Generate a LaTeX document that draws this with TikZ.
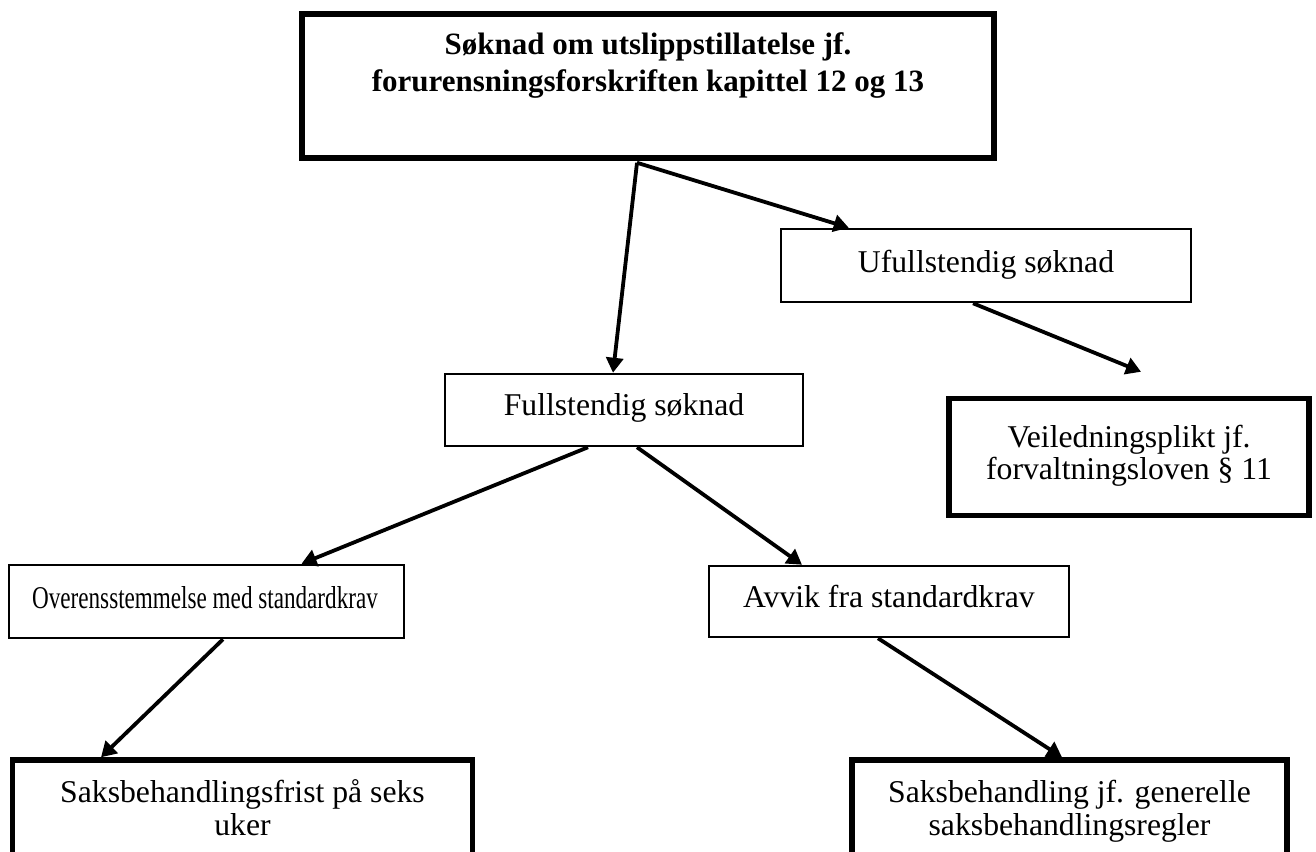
\documentclass[tikz,border=0pt]{standalone}
\usepackage{fontspec}
\setmainfont{Liberation Serif}
\usepackage{graphicx}
\usetikzlibrary{arrows.meta}
\begin{document}
\begin{tikzpicture}[x=1pt,y=-1pt,
  thinbox/.style={draw, line width=2.5pt, inner sep=0pt, rectangle},
  thickbox/.style={draw, line width=5.5pt, inner sep=0pt, rectangle},
  txt/.style={font=\fontsize{31.7}{34}\selectfont, align=center, inner sep=0pt},
  ttl/.style={font=\bfseries\fontsize{31}{37}\selectfont, align=center, inner sep=0pt},
  arr/.style={-{Triangle[length=15pt,width=17pt]}, line width=3.8pt}]
\useasboundingbox (0,0) rectangle (1316,851);
\clip (0,0) rectangle (1316,851);
\fill[white] (0,0) rectangle (1316,851);

% boxes
\node[thickbox, minimum width=692pt, minimum height=144pt] (A) at (648,86) {};
\node[thinbox, minimum width=410pt, minimum height=73pt] (B) at (986,265.5) {};
\node[thinbox, minimum width=358pt, minimum height=72pt] (C) at (624,410) {};
\node[thickbox, minimum width=360pt, minimum height=117pt] (D) at (1129,457) {};
\node[thinbox, minimum width=395pt, minimum height=73pt] (E) at (206.5,601.5) {};
\node[thinbox, minimum width=360pt, minimum height=71pt] (F) at (889,601.5) {};
\node[thickbox, minimum width=460pt, minimum height=140pt] (G) at (242.5,830) {};
\node[thickbox, minimum width=435pt, minimum height=140pt] (H) at (1069.5,830) {};

% texts
\node[ttl] (At) at (648,66) {Søknad om utslippstillatelse jf.\strut\\forurensningsforskriften kapittel 12 og 13\strut};
\node[txt, anchor=base] (Bt) at (986,272) {Ufullstendig søknad};
\node[txt, anchor=base] (Ct) at (624,415) {Fullstendig søknad};
\node[txt, font=\fontsize{31.7}{30}\selectfont] (Dt) at (1129,457) {Veiledningsplikt jf.\strut\\forvaltningsloven § 11\strut};
\node[txt, anchor=base] (Et) at (205,608) {\scalebox{0.73}[1]{Overensstemmelse med standardkrav}};
\node[txt, anchor=base] (Ft) at (889,607) {Avvik fra standardkrav};
\node[txt, font=\fontsize{31.7}{33}\selectfont] (Gt) at (242.5,812) {Saksbehandlingsfrist på seks\strut\\uker\strut};
\node[txt, font=\fontsize{31.7}{33}\selectfont] (Ht) at (1069.5,812) {Saksbehandling jf. generelle\strut\\saksbehandlingsregler\strut};

% connectors
\coordinate (a0) at ([xshift=-11pt,yshift=-2pt]A.south);
\draw[arr] (a0) -- ([xshift=-11pt]C.north);
\draw[arr] (a0) -- ([xshift=69pt]B.north west);
\draw[arr] ([xshift=-13pt]B.south) -- ([xshift=12pt,yshift=24pt]D.north);
\draw[arr] ([xshift=-36pt]C.south) -- ([xshift=95pt]E.north);
\draw[arr] ([xshift=13pt]C.south) -- ([xshift=-87pt]F.north);
\draw[arr] ([xshift=16.5pt]E.south) -- ([xshift=-141.5pt]G.north);
\draw[arr] ([xshift=-11pt]F.south) -- ([xshift=-7.5pt]H.north);
\end{tikzpicture}
\end{document}
